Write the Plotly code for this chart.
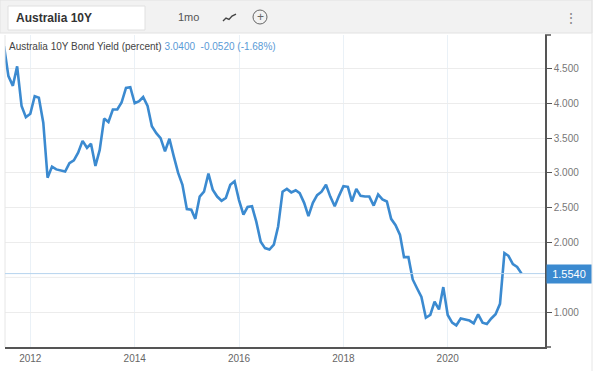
import plotly.graph_objects as go
import pandas as pd

# Monthly Australia 10Y bond yield, Jul 2011 .. Jun 2021
start_month = "2011-07-01"
yields = [
    4.82, 4.39, 4.25, 4.53, 3.96, 3.80,                                   # 2011 H2
    3.85, 4.10, 4.08, 3.72, 2.93, 3.09, 3.05, 3.04, 3.02, 3.14, 3.18, 3.29,  # 2012
    3.46, 3.36, 3.42, 3.10, 3.33, 3.78, 3.73, 3.91, 3.91, 4.01, 4.22, 4.23,  # 2013
    4.00, 4.03, 4.09, 3.96, 3.67, 3.57, 3.50, 3.31, 3.49, 3.24, 3.00, 2.83,  # 2014
    2.48, 2.47, 2.34, 2.66, 2.73, 2.99, 2.76, 2.66, 2.60, 2.64, 2.83, 2.88,  # 2015
    2.61, 2.40, 2.51, 2.52, 2.30, 2.01, 1.92, 1.90, 1.97, 2.23, 2.73, 2.77,  # 2016
    2.72, 2.75, 2.71, 2.57, 2.38, 2.57, 2.68, 2.73, 2.83, 2.66, 2.52, 2.67,  # 2017
    2.81, 2.80, 2.59, 2.77, 2.67, 2.66, 2.66, 2.53, 2.69, 2.62, 2.59, 2.34,  # 2018
    2.25, 2.11, 1.79, 1.79, 1.47, 1.34, 1.22, 0.92, 0.96, 1.15, 1.04, 1.36,  # 2019
    0.96, 0.85, 0.81, 0.91, 0.90, 0.88, 0.84, 0.97, 0.85, 0.83, 0.91, 0.97,  # 2020
    1.12, 1.85, 1.81, 1.69, 1.65, 1.554,                                  # 2021 H1
]
dates = pd.date_range(start_month, periods=len(yields), freq="MS")

last_value = yields[-1]
y_ticks = [1.0, 2.0, 2.5, 3.0, 3.5, 4.0, 4.5]   # 1.500 hidden behind the value box
hidden_tick = 1.5
x_range = ["2011-07-08", "2021-11-12"]
y_range = [0.5, 4.98]

title_text = "Australia 10Y"
legend_name = "Australia 10Y Bond Yield (percent)"
legend_vals = "3.0400&nbsp;&nbsp;-0.0520 (-1.68%)"
last_label = "1.5540"

LINE = "#3b8ad0"
W, H = 600, 371
x0p, x1p = 5, 545
y0p, y1p = 35, 347  # top, bottom in px

def px(x):
    return x / W

def py(y):
    return 1 - y / H

fig = go.Figure()
fig.add_trace(go.Scatter(x=dates, y=yields, mode="lines",
                         line=dict(color=LINE, width=2.6), hoverinfo="skip"))

fig.update_layout(
    width=W, height=H,
    margin=dict(l=0, r=0, t=0, b=0),
    paper_bgcolor="white", plot_bgcolor="white",
    showlegend=False,
    font=dict(family="Liberation Sans, Arial, sans-serif", color="#666", size=10),
    xaxis=dict(domain=[px(x0p), px(x1p)], range=x_range, type="date",
               tickformat="%Y", dtick="M24", tick0="2012-01-01",
               showgrid=True, gridcolor="#eaf1f7", gridwidth=1,
               showline=True, linecolor="#555", linewidth=1.5,
               ticks="", ticklabelstandoff=1,
               tickfont=dict(size=10, color="#666"), zeroline=False),
    yaxis=dict(domain=[py(y1p), py(y0p)], range=y_range, side="right",
               tickvals=y_ticks, tickformat=".3f",
               showgrid=True, gridcolor="#ececec", gridwidth=1,
               showline=True, linecolor="#555", linewidth=1.5,
               ticks="outside", ticklen=5, tickcolor="#555",
               tickfont=dict(size=10, color="#777"), zeroline=False),
)

shapes = []
# header band
shapes.append(dict(type="rect", xref="paper", yref="paper",
                   x0=px(0), x1=px(592), y0=py(33), y1=py(0),
                   fillcolor="#f2f2f2", line=dict(color="#e2e2e2", width=1), layer="below"))
# input box
shapes.append(dict(type="rect", xref="paper", yref="paper",
                   x0=px(8), x1=px(145), y0=py(30), y1=py(6),
                   fillcolor="white", line=dict(color="#e0e0e0", width=1)))
# chart-type icon (small trend squiggle)
sq = [(223, 21), (226, 18), (229, 19.5), (232, 16), (236, 14)]
path = "M " + " L ".join(f"{px(a):.5f},{py(b):.5f}" for a, b in sq)
shapes.append(dict(type="path", xref="paper", yref="paper", path=path,
                   line=dict(color="#444", width=1.4)))
# add icon circle
shapes.append(dict(type="circle", xref="paper", yref="paper",
                   x0=px(253), x1=px(267), y0=py(24), y1=py(10),
                   line=dict(color="#666", width=1)))
# widget right border
shapes.append(dict(type="line", xref="paper", yref="paper",
                   x0=px(592), x1=px(592), y0=py(371), y1=py(0),
                   line=dict(color="#e6e6e6", width=1)))
# left border of plot
shapes.append(dict(type="line", xref="paper", yref="paper",
                   x0=px(x0p), x1=px(x0p), y0=py(y1p), y1=py(y0p),
                   line=dict(color="#e6e6e6", width=1)))
# gridline at the hidden tick
shapes.append(dict(type="line", xref="paper", yref="y", layer="below",
                   x0=px(x0p), x1=px(x1p), y0=hidden_tick, y1=hidden_tick,
                   line=dict(color="#ececec", width=1)))
# axis bracket ends
shapes.append(dict(type="line", xref="paper", yref="paper",
                   x0=px(x1p), x1=px(x1p + 6), y0=py(y0p), y1=py(y0p),
                   line=dict(color="#555", width=1.5)))
shapes.append(dict(type="line", xref="paper", yref="paper",
                   x0=px(x1p), x1=px(x1p + 6), y0=py(y1p), y1=py(y1p),
                   line=dict(color="#555", width=1.5)))
# last value reference line
shapes.append(dict(type="line", xref="paper", yref="y",
                   x0=px(x0p), x1=px(x1p), y0=last_value, y1=last_value,
                   line=dict(color="#b5d3ee", width=1)))
fig.update_layout(shapes=shapes)

ann = []
ann.append(dict(xref="paper", yref="paper", x=px(14), y=py(18), xanchor="left", yanchor="middle",
                text="<b>" + title_text + "</b>", showarrow=False,
                font=dict(size=12, color="#333")))
ann.append(dict(xref="paper", yref="paper", x=px(176), y=py(17), xanchor="left", yanchor="middle",
                text="1mo", showarrow=False, font=dict(size=11, color="#555")))
ann.append(dict(xref="paper", yref="paper", x=px(260), y=py(17), xanchor="center", yanchor="middle",
                text="+", showarrow=False, font=dict(size=12, color="#666")))
ann.append(dict(xref="paper", yref="paper", x=px(571), y=py(18), xanchor="center", yanchor="middle",
                text="⋮", showarrow=False, font=dict(size=14, color="#888")))
ann.append(dict(xref="paper", yref="paper", x=px(7), y=py(47), xanchor="left", yanchor="middle",
                text=legend_name + " <span style='color:#5a9ad6'>" + legend_vals + "</span>",
                showarrow=False, font=dict(size=10, color="#444")))
# last value label
ann.append(dict(xref="paper", yref="y", x=px(546), y=last_value, xanchor="left", yanchor="middle",
                text=last_label, showarrow=False, bgcolor=LINE, borderpad=3,
                font=dict(size=11, color="white"), width=38))
fig.update_layout(annotations=ann)

fig.write_html("out.html", config={"displayModeBar": False},
               post_script="document.body.style.margin='0';document.body.style.overflow='hidden';")
